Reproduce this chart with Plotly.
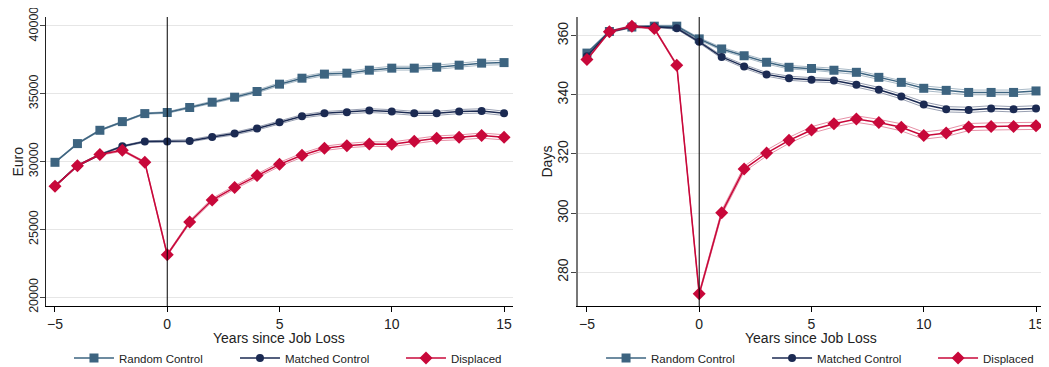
import plotly.graph_objects as go
from plotly.subplots import make_subplots

years = list(range(-5, 16))

# Panel A: earnings (Euro)
euro_random = [29950, 31330, 32310, 32950, 33540, 33620, 33990, 34380, 34750, 35170, 35710,
               36150, 36450, 36520, 36740, 36890, 36890, 36960, 37110, 37260, 37300]
euro_random_ci = [50, 50, 50, 50, 50, 60, 70, 80, 90, 100, 110, 120, 120, 130, 130, 140, 140, 150, 150, 150, 160]
euro_matched = [28200, 29700, 30520, 31130, 31480, 31480, 31530, 31820, 32070, 32440, 32900,
                33340, 33560, 33640, 33760, 33690, 33560, 33560, 33690, 33740, 33560]
euro_matched_ci = [50, 50, 50, 50, 60, 70, 80, 90, 100, 110, 120, 120, 130, 130, 140, 140, 150, 150, 150, 160, 160]
euro_displaced = [28180, 29700, 30520, 30830, 29950, 23140, 25550, 27170, 28100, 28970, 29800,
                  30470, 30980, 31180, 31300, 31280, 31500, 31720, 31790, 31920, 31790]
euro_displaced_ci = [60, 60, 60, 60, 70, 80, 110, 120, 130, 140, 150, 150, 160, 160, 170, 170, 180, 180, 180, 190, 190]

# Panel B: days employed
days_random = [354.1, 361.4, 362.9, 363.2, 363.2, 358.9, 355.5, 353.2, 351.0, 349.3, 348.9,
               348.3, 347.6, 345.9, 344.2, 342.2, 341.5, 340.8, 340.8, 340.8, 341.3]
days_random_ci = [0.3, 0.3, 0.3, 0.3, 0.3, 0.4, 0.5, 0.5, 0.6, 0.6, 0.6, 0.7, 0.7, 0.7, 0.7, 0.8, 0.8, 0.8, 0.8, 0.8, 0.8]
days_matched = [353.0, 361.3, 363.0, 363.0, 362.5, 357.9, 352.8, 349.6, 346.9, 345.6, 345.1,
                344.8, 343.4, 341.7, 339.4, 336.7, 335.1, 334.9, 335.4, 335.1, 335.4]
days_matched_ci = [0.3, 0.3, 0.3, 0.3, 0.3, 0.4, 0.5, 0.6, 0.6, 0.7, 0.7, 0.7, 0.8, 0.8, 0.8, 0.9, 0.9, 0.9, 0.9, 0.9, 0.9]
days_displaced = [351.9, 361.3, 363.2, 362.4, 350.0, 272.7, 300.1, 314.9, 320.3, 324.6, 328.1,
                  330.2, 331.8, 330.6, 329.0, 326.2, 327.1, 329.1, 329.3, 329.3, 329.5]
days_displaced_ci = [0.3, 0.3, 0.3, 0.3, 0.4, 0.6, 0.8, 0.9, 1.0, 1.0, 1.1, 1.1, 1.1, 1.1, 1.2, 1.2, 1.2, 1.2, 1.2, 1.2, 1.2]

series_names = ["Random Control", "Matched Control", "Displaced"]
colors = ["#3d6480", "#1b2a52", "#c8083a"]
band_colors = ["rgba(61,100,128,0.45)", "rgba(27,42,82,0.45)", "rgba(200,8,58,0.45)"]
symbols = ["square", "circle", "diamond"]
sizes = [9, 8, 10]

x_ticks = [-5, 0, 5, 10, 15]
euro_ticks = [20000, 25000, 30000, 35000, 40000]
days_ticks = [280, 300, 320, 340, 360]

FONT = "Liberation Sans, Arial, sans-serif"

fig = make_subplots(rows=1, cols=2)

panels = [
    (1, [euro_random, euro_matched, euro_displaced],
     [euro_random_ci, euro_matched_ci, euro_displaced_ci], "legend"),
    (2, [days_random, days_matched, days_displaced],
     [days_random_ci, days_matched_ci, days_displaced_ci], "legend2"),
]

for col, vals, cis, leg in panels:
    for i in range(3):
        upper = [v + c for v, c in zip(vals[i], cis[i])]
        lower = [v - c for v, c in zip(vals[i], cis[i])]
        for band in (upper, lower):
            fig.add_trace(go.Scatter(x=years, y=band, mode="lines",
                                     line=dict(color=band_colors[i], width=1),
                                     showlegend=False, hoverinfo="skip"),
                          row=1, col=col)
    for i in range(3):
        fig.add_trace(go.Scatter(x=years, y=vals[i], mode="lines+markers",
                                 name=series_names[i], legend=leg,
                                 line=dict(color=colors[i], width=1.5),
                                 marker=dict(symbol=symbols[i], size=sizes[i], color=colors[i],
                                             line=dict(width=0))),
                      row=1, col=col)
    fig.add_vline(x=0, line=dict(color="black", width=1), row=1, col=col)

common_x = dict(range=[-5.4, 15.4], tickvals=x_ticks, ticks="outside", ticklen=5,
                tickcolor="black", showline=True, linecolor="black", linewidth=1.2,
                showgrid=False, zeroline=False, tickfont=dict(size=14, color="#222"))
fig.update_xaxes(**common_x)
fig.update_xaxes(domain=[0, 0.4675], row=1, col=1)
fig.update_xaxes(domain=[0.5325, 1.0], row=1, col=2)

common_y = dict(ticks="outside", ticklen=5, tickcolor="#444", showline=True,
                showgrid=True, gridcolor="#e6e6e6", gridwidth=1, zeroline=False,
                tickangle=-90, tickformat="d", ticklabeloverflow="allow",
                ticklabelstandoff=-3, tickfont=dict(size=14, color="#222"))
fig.update_yaxes(**common_y)
fig.update_yaxes(range=[19360, 40660], tickvals=euro_ticks, linecolor="#222", linewidth=1.2,
                 tickfont=dict(size=12.5, color="#222"), row=1, col=1)
fig.update_yaxes(range=[268.6, 366.3], tickvals=days_ticks, linecolor="#777", linewidth=2,
                 row=1, col=2)

fig.add_annotation(text="Euro", xref="paper", yref="paper", x=-0.029, y=0.5,
                   xanchor="center", yanchor="middle",
                   textangle=-90, showarrow=False, font=dict(size=14, color="#222"))
fig.add_annotation(text="Days", xref="paper", yref="paper", x=0.5015, y=0.5,
                   xanchor="center", yanchor="middle",
                   textangle=-90, showarrow=False, font=dict(size=14, color="#222"))
for xc in (0.2337, 0.766):
    fig.add_annotation(text="Years since Job Loss", xref="paper", yref="paper",
                       x=xc, y=-0.109, xanchor="center", yanchor="middle", showarrow=False,
                       font=dict(size=14, color="#222"))

leg_common = dict(orientation="h", yanchor="middle", y=-0.18, xanchor="left",
                  font=dict(size=11.5, color="#222"), bgcolor="rgba(0,0,0,0)",
                  itemwidth=40, entrywidth=111, traceorder="normal")
fig.update_layout(
    legend=dict(x=0.023, **leg_common),
    legend2=dict(x=0.5556, **leg_common),
    width=1041, height=359,
    margin=dict(l=38, r=4, t=9, b=61, autoexpand=False),
    plot_bgcolor="white", paper_bgcolor="white",
    font=dict(family=FONT, color="#222"),
)

fig.write_html("out.html")
